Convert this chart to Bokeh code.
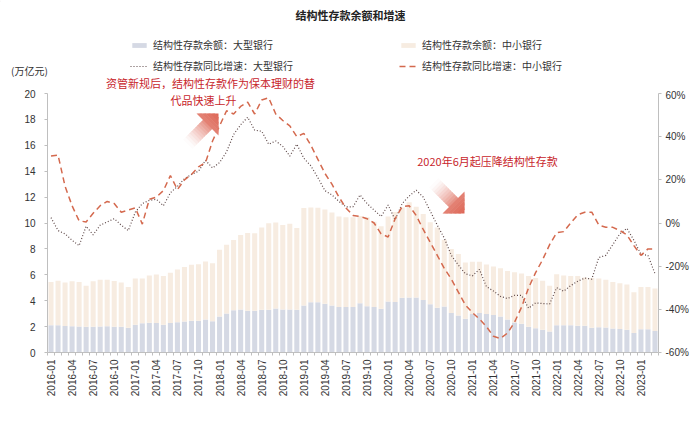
import math
from bokeh.plotting import figure
from bokeh.layouts import column
from bokeh.models import (Range1d, LinearAxis, FixedTicker, PrintfTickFormatter, Label,
                          Legend, LegendItem, ColumnDataSource)
from bokeh.embed import file_html
from bokeh.resources import INLINE

# ---------------- data ----------------
months = [f"{y}-{m:02d}" for y in range(2016, 2024) for m in range(1, 13)][:87]

# 结构性存款余额：大型银行 (万亿元)
big_bal = [2.10, 2.10, 2.05, 2.02, 2.00, 1.98, 1.98, 2.00, 2.02, 1.98,
           1.98, 1.92, 2.15, 2.25, 2.30, 2.27, 2.15, 2.27, 2.33, 2.40,
           2.45, 2.45, 2.55, 2.42, 2.78, 3.02, 3.26, 3.33, 3.22, 3.22,
           3.30, 3.30, 3.40, 3.32, 3.32, 3.30, 3.63, 3.88, 3.88, 3.76,
           3.63, 3.52, 3.52, 3.52, 3.80, 3.58, 3.52, 3.38, 3.94, 3.90,
           4.22, 4.25, 4.25, 4.05, 3.72, 3.45, 3.55, 3.05, 2.85, 2.60,
           2.98, 3.05, 2.98, 2.90, 2.78, 2.55, 2.32, 2.22, 1.98, 1.88,
           1.75, 1.62, 2.10, 2.10, 2.10, 2.06, 2.06, 1.92, 1.95, 1.93,
           1.86, 1.82, 1.75, 1.50, 1.80, 1.80, 1.66]

# 结构性存款余额：中小银行 (万亿元)
small_bal = [3.35, 3.45, 3.35, 3.48, 3.45, 3.17, 3.52, 3.62, 3.60, 3.54,
             3.42, 3.13, 3.57, 3.47, 3.65, 3.75, 3.75, 3.88, 4.07, 4.20,
             4.33, 4.37, 4.47, 4.48, 5.15, 5.30, 5.42, 5.75, 6.00, 5.98,
             6.35, 6.68, 6.64, 6.53, 6.63, 6.32, 7.52, 7.32, 7.30, 7.29,
             7.19, 6.98, 6.93, 6.93, 6.75, 6.87, 6.58, 6.37, 6.56, 6.94,
             6.98, 7.35, 7.00, 6.65, 6.33, 6.20, 5.15, 4.95, 4.75, 4.35,
             4.02, 3.95, 3.82, 3.75, 3.72, 3.75, 3.88, 3.88, 3.92, 3.87,
             3.80, 3.53, 3.95, 3.85, 3.80, 3.84, 3.74, 3.83, 3.77, 3.69,
             3.59, 3.53, 3.50, 3.15, 3.25, 3.25, 3.29]

# 结构性存款同比增速：大型银行 (%)
big_yoy = [2.5, -3.5, -5, -8, -10.5, -1.5, -5.5, -1, 0.5, 2,
           -1, -3.5, 5, 9, 10.5, 11, 8, 14, 17, 20.5,
           22.5, 24, 29, 25.5, 28, 33, 41, 45.5, 49, 43,
           42.5, 36.5, 38, 35.5, 31, 36.5, 30, 26.5, 21, 15,
           13, 10, 7.5, 7.5, 13, 9, 6, 3, 8.3, 1.5,
           9, 12.5, 15.2, 12, 5.5, -1, -7, -15, -19.5, -23.5,
           -24.5, -21.5, -29.5, -31.5, -34, -35, -33.5, -33.5, -39.5, -37,
           -37.3, -37.5, -30, -31.6, -29, -27, -25.5, -26, -16, -15,
           -10, -5, -2.5, -8, -14.5, -15, -23.5]

# 结构性存款同比增速：中小银行 (%)
small_yoy = [31, 31.5, 17, 8, 1, 0.5, 4.5, 8, 10, 9,
             5, 6, 7, -0.5, 11, 12, 15, 22, 15.5, 20,
             22.5, 26, 28, 38, 45, 52, 50.5, 54, 56, 50.5,
             57, 58, 50.5, 47.5, 45, 40, 41.5, 36, 29.5, 23,
             18, 12, 7, 3.5, 3, 2, 0, -5, -6.5, 2,
             7.5, 8, 3.5, -3, -9, -15, -21, -26, -32, -38,
             -41.5, -44.5, -48, -52.5, -53.5, -51, -46, -39, -30, -23,
             -17, -10, -4.5, -4, 0, 3.8, 5, 5, -1, -2,
             -2, -3.5, -5.5, -10.5, -15, -12, -12]

left_ticks = [0, 2, 4, 6, 8, 10, 12, 14, 16, 18, 20]
right_ticks = [-60, -40, -20, 0, 20, 40, 60]

# ---------------- styles ----------------
CJK = "Noto Sans CJK SC"
NUM = "Liberation Sans"
C_BIG = "#d5d9e4"
C_SMALL = "#f7ece1"
C_DOT = "#5e4848"
C_DASH = "#d4694e"
C_RED = "#c8262c"
AX = "#bfbfbf"
TXT = "#333333"

W = 700
TOP_H = 89
n = len(months)
idx = list(range(n))
src = ColumnDataSource(dict(x=idx, big=big_bal, small=small_bal, by=big_yoy, sy=small_yoy))

# ---------------- header figure (title, legend, unit, note) ----------------
top = figure(width=W, height=TOP_H, x_range=Range1d(0, W), y_range=Range1d(TOP_H, 0),
             output_backend="svg", toolbar_location=None, x_axis_type=None, y_axis_type=None,
             min_border=0, min_border_left=0, min_border_right=0, min_border_top=0,
             min_border_bottom=0)
top.frame_align = False
top.xgrid.visible = False
top.ygrid.visible = False
top.outline_line_color = None

# swatch-only renderers (their single point lies outside the header's view)
d_big = top.vbar(x=[-1000], top=[1], width=1, fill_color=C_BIG, line_color=None)
d_small = top.vbar(x=[-1000], top=[1], width=1, fill_color=C_SMALL, line_color=None)
d_dot = top.line(x=[-1000, -999], y=[1, 1], line_color=C_DOT, line_width=1.2, line_dash="1 2")
d_dash = top.line(x=[-1000, -999], y=[1, 1], line_color=C_DASH, line_width=1.5, line_dash="6 4")

top.add_layout(Label(x=350, y=14, text="结构性存款余额和增速", text_align="center",
                     text_baseline="middle", text_font=CJK, text_font_size="11px",
                     text_font_style="bold", text_color="#222222"))
top.add_layout(Label(x=29, y=70, text="(万亿元)", text_align="center",
                     text_baseline="middle", text_font=CJK, text_font_size="10px",
                     text_color=TXT))
top.add_layout(Label(x=210, y=82, text="资管新规后，结构性存款作为保本理财的替",
                     text_align="center", text_baseline="middle", text_font=CJK,
                     text_font_size="11px", text_color=C_RED))

def make_legend(items, vx):
    lg = Legend(items=items, location=(vx, TOP_H - 73), orientation="vertical",
                glyph_width=18, glyph_height=6, label_height=14, label_standoff=5,
                spacing=6, padding=0, margin=0, border_line_color=None,
                background_fill_alpha=0, label_text_font=CJK,
                label_text_font_size="10px", label_text_color=TXT)
    top.add_layout(lg, "center")

make_legend([LegendItem(label="结构性存款余额：大型银行", renderers=[d_big]),
             LegendItem(label="结构性存款同比增速：大型银行", renderers=[d_dot])], 130)
make_legend([LegendItem(label="结构性存款余额：中小银行", renderers=[d_small]),
             LegendItem(label="结构性存款同比增速：中小银行", renderers=[d_dash])], 399)

# ---------------- main chart ----------------
FL, FR, FT, FB = 47, 658, 93, 352     # frame edges in page pixels
MAIN_H = 421 - TOP_H - 1
p = figure(width=W, height=MAIN_H, x_range=Range1d(-0.5, n - 0.5), y_range=Range1d(0, 20),
           output_backend="svg", toolbar_location=None,
           min_border_left=FL, min_border_right=W - FR, min_border_top=FT - TOP_H,
           min_border_bottom=MAIN_H - (FB - TOP_H))
p.frame_align = False
p.extra_y_ranges = {"pct": Range1d(-60, 60)}
p.xgrid.visible = False
p.ygrid.visible = False
p.outline_line_color = None

bars = p.vbar_stack(["big", "small"], x="x", width=0.72, source=src,
                    fill_color=[C_BIG, C_SMALL], line_color=[None, None])
r_dot = p.line("x", "by", source=src, y_range_name="pct", line_color=C_DOT,
               line_width=1.2, line_dash="1 2")
r_dash = p.line("x", "sy", source=src, y_range_name="pct", line_color=C_DASH,
                line_width=1.5, line_dash="6 4")

xa = p.xaxis[0]
xa.ticker = FixedTicker(ticks=[i for i in idx if i % 3 == 0],
                        minor_ticks=[i - 0.5 for i in range(n + 1)])
xa.major_label_overrides = {i: months[i] for i in idx if i % 3 == 0}
xa.major_label_orientation = math.pi / 2
xa.major_label_text_font = NUM
xa.major_label_text_font_size = "10px"
xa.major_label_text_color = TXT
xa.major_label_standoff = 4
xa.major_tick_out = 0
xa.major_tick_in = 0
xa.minor_tick_out = 3
xa.minor_tick_in = 0
xa.minor_tick_line_color = AX
xa.axis_line_color = AX

ya = p.yaxis[0]
ya.ticker = FixedTicker(ticks=left_ticks)
ya.major_label_text_font = NUM
ya.major_label_text_font_size = "10px"
ya.major_label_text_color = TXT
ya.major_tick_out = 3
ya.major_tick_in = 0
ya.minor_tick_line_color = None
ya.major_tick_line_color = AX
ya.axis_line_color = AX
ya.major_label_standoff = 9

ra = LinearAxis(y_range_name="pct", ticker=FixedTicker(ticks=right_ticks),
                formatter=PrintfTickFormatter(format="%d%%"))
ra.major_label_text_font = NUM
ra.major_label_text_font_size = "10px"
ra.major_label_text_color = TXT
ra.major_tick_out = 3
ra.major_tick_in = 0
ra.minor_tick_line_color = None
ra.major_tick_line_color = AX
ra.axis_line_color = AX
ra.major_label_standoff = 4
p.add_layout(ra, "right")

def fx(px):
    return -0.5 + (px - FL) / ((FR - FL) / n)
def fy(py):
    return (FB - py) / ((FB - FT) / 20.0)

# gradient block arrows (decoration)
def arrow_polys(tip, d, head=22, shaft_half=6.5, shaft_len=28, ns=10, tipc=(222, 104, 88)):
    tx, ty = tip
    dl = math.hypot(*d)
    dx, dy = d[0] / dl, d[1] / dl
    nx, ny = -dy, dx
    hl = head / math.sqrt(2)
    bx, by = tx - hl * dx, ty - hl * dy
    xs, ys, cs = [], [], []
    def col(t):
        r = int(255 + (tipc[0] - 255) * t)
        g = int(255 + (tipc[1] - 255) * t)
        b = int(255 + (tipc[2] - 255) * t)
        return f"#{r:02x}{g:02x}{b:02x}"
    for k in range(ns):
        s0 = shaft_len * (k + 1) / ns
        s1 = shaft_len * k / ns - 0.6
        p0 = (bx - s0 * dx, by - s0 * dy)
        p1 = (bx - s1 * dx, by - s1 * dy)
        pts = [(p0[0] + shaft_half * nx, p0[1] + shaft_half * ny),
               (p1[0] + shaft_half * nx, p1[1] + shaft_half * ny),
               (p1[0] - shaft_half * nx, p1[1] - shaft_half * ny),
               (p0[0] - shaft_half * nx, p0[1] - shaft_half * ny)]
        xs.append([fx(a) for a, _ in pts])
        ys.append([fy(b) for _, b in pts])
        cs.append(col(0.75 * (1 - (k + 0.5) / ns) ** 1.3))
    nh = 5
    for k in range(nh):
        s0 = hl * k / nh
        s1 = hl * (k + 1) / nh + (0.4 if k < nh - 1 else 0)
        w0 = hl * (1 - k / nh)
        w1 = max(hl * (1 - (k + 1) / nh), 0)
        c0 = (bx + s0 * dx, by + s0 * dy)
        c1 = (bx + min(s1, hl) * dx, by + min(s1, hl) * dy)
        pts = [(c0[0] + w0 * nx, c0[1] + w0 * ny), (c1[0] + w1 * nx, c1[1] + w1 * ny),
               (c1[0] - w1 * nx, c1[1] - w1 * ny), (c0[0] - w0 * nx, c0[1] - w0 * ny)]
        xs.append([fx(a) for a, _ in pts])
        ys.append([fy(b) for _, b in pts])
        cs.append(col(0.8 + 0.2 * (k + 1) / nh))
    return xs, ys, cs

ax1 = arrow_polys((218, 113), (1, -1))
ax2 = arrow_polys((464, 213), (1, 1))
p.patches(ax1[0] + ax2[0], ax1[1] + ax2[1], fill_color=ax1[2] + ax2[2], line_color=None)

p.add_layout(Label(x=fx(203), y=fy(99), text="代品快速上升",
                   text_align="center", text_baseline="middle", text_font=CJK,
                   text_font_size="11px", text_color=C_RED))
p.add_layout(Label(x=fx(487), y=fy(160), text="2020年6月起压降结构性存款",
                   text_align="center", text_baseline="middle", text_font=CJK,
                   text_font_size="11px", text_color=C_RED))

layout = column(top, p, spacing=0)
open("out.html", "w").write(file_html(layout, INLINE))
